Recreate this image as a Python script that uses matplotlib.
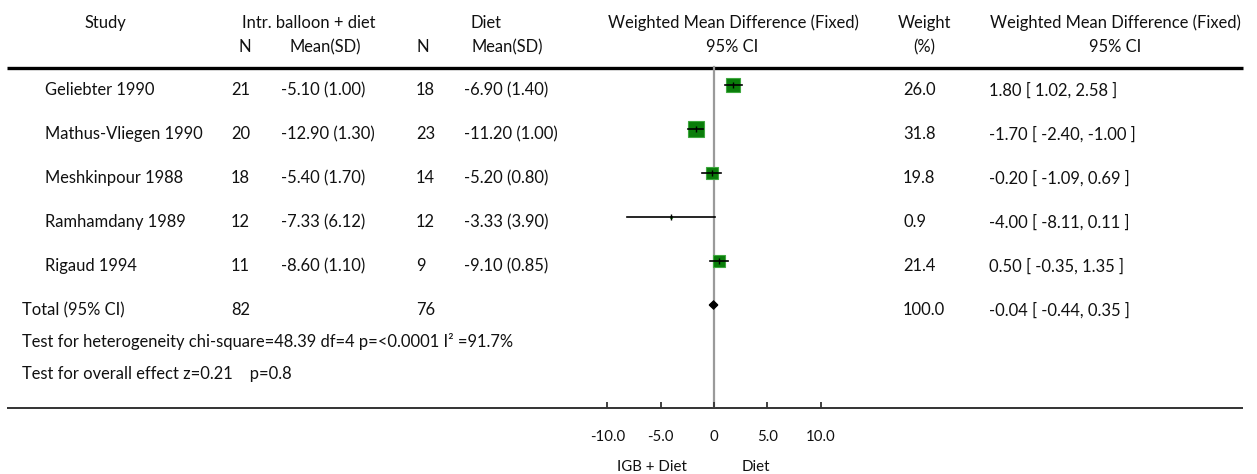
import matplotlib
matplotlib.use("Agg")
import matplotlib.pyplot as plt
import numpy as np

plt.rcParams['font.family'] = ['Lato', 'DejaVu Sans']

# ---------------- data ----------------
studies = ["Geliebter 1990", "Mathus-Vliegen 1990", "Meshkinpour 1988",
           "Ramhamdany 1989", "Rigaud 1994"]
n_igb = [21, 20, 18, 12, 11]
mean_igb = ["-5.10 (1.00)", "-12.90 (1.30)", "-5.40 (1.70)", "-7.33 (6.12)", "-8.60 (1.10)"]
n_diet = [18, 23, 14, 12, 9]
mean_diet = ["-6.90 (1.40)", "-11.20 (1.00)", "-5.20 (0.80)", "-3.33 (3.90)", "-9.10 (0.85)"]
wmd = [1.80, -1.70, -0.20, -4.00, 0.50]
ci_low = [1.02, -2.40, -1.09, -8.11, -0.35]
ci_high = [2.58, -1.00, 0.69, 0.11, 1.35]
weights = [26.0, 31.8, 19.8, 0.9, 21.4]
total_n_igb = 82
total_n_diet = 76
total_wmd = -0.04
total_low = -0.44
total_high = 0.35
total_weight = 100.0
heterogeneity = "Test for heterogeneity chi-square=48.39 df=4 p=<0.0001 I\u00b2 =91.7%"
overall = "Test for overall effect z=0.21    p=0.8"
tick_values = [-10, -5, 0, 5, 10]
tick_labels = ["-10.0", "-5.0", "0", "5.0", "10.0"]
favours_left = "IGB + Diet"
favours_right = "Diet"

# ---------------- layout ----------------
W, H = 1257, 474
fig = plt.figure(figsize=(W / 100, H / 100), dpi=100)
TXT = "#111111"
FS = 11.9
FS_AX = 10.8

# table axes in pixel coordinates
tab = fig.add_axes([0, 0, 1, 1])
tab.set_xlim(0, W)
tab.set_ylim(H, 0)
tab.axis("off")

row_y0, row_dy = 85.0, 44.0
text_off = 5.0
def ry(i):
    return row_y0 + row_dy * i + text_off

def T(x, y, s, ha="left"):
    tab.text(x, y, s, ha=ha, va="center", fontsize=FS, color=TXT)

# column anchors (pixels)
c_study, c_total = 45, 22
c_n1, c_m1, c_n2, c_m2 = 231, 281, 416, 464
c_w, c_ci = 903, 989

# headers
hy1, hy2 = 23, 47
T(105, hy1, "Study", "center")
T(309, hy1, "Intr. balloon + diet", "center")
T(486, hy1, "Diet", "center")
T(733, hy1, "Weighted Mean Difference (Fixed)", "center")
T(924, hy1, "Weight", "center")
T(1115, hy1, "Weighted Mean Difference (Fixed)", "center")
T(245, hy2, "N", "center")
T(325, hy2, "Mean(SD)", "center")
T(423, hy2, "N", "center")
T(507, hy2, "Mean(SD)", "center")
T(732, hy2, "95% CI", "center")
T(924, hy2, "(%)", "center")
T(1115, hy2, "95% CI", "center")

tab.plot([7, 1243], [67.5, 67.5], color="black", lw=2.4, solid_capstyle="butt")
tab.plot([7, 1243], [408, 408], color="#333333", lw=1.4, solid_capstyle="butt")

for i, s in enumerate(studies):
    y = ry(i)
    T(c_study, y, s)
    T(c_n1, y, str(n_igb[i]))
    T(c_m1, y, mean_igb[i])
    T(c_n2, y, str(n_diet[i]))
    T(c_m2, y, mean_diet[i])
    T(c_w, y, f"{weights[i]:.1f}")
    T(c_ci, y, f"{wmd[i]:.2f} [ {ci_low[i]:.2f}, {ci_high[i]:.2f} ]")

yt = ry(5)
T(c_total, yt, "Total (95% CI)")
T(c_n1, yt, str(total_n_igb))
T(c_n2, yt, str(total_n_diet))
T(c_w, yt, f"{total_weight:.1f}")
T(c_ci, yt, f"{total_wmd:.2f} [ {total_low:.2f}, {total_high:.2f} ]")
T(c_total, 342, heterogeneity)
T(c_total, 374, overall)

# ---------------- forest axes ----------------
x0_px, scale = 714.0, 10.67          # pixel of zero, pixels per unit
axis_px = 408.0
ax = fig.add_axes([0, (H - axis_px) / H, 1, axis_px / H])
ax.patch.set_alpha(0)
ax.set_xlim(-x0_px / scale, (W - x0_px) / scale)
ax.set_ylim((axis_px - row_y0) / row_dy, (0 - row_y0) / row_dy)
for sp in ["top", "right", "left", "bottom"]:
    ax.spines[sp].set_visible(False)
ax.set_yticks([])
ax.set_xticks(tick_values)
ax.set_xticklabels(tick_labels)
ax.tick_params(axis="x", direction="in", length=4.5, width=1.3, color="#333333",
               pad=16, labelsize=FS_AX, labelcolor=TXT)

# vertical null line
ax.plot([0, 0], [(67 - row_y0) / row_dy, (axis_px - row_y0) / row_dy],
        color="#9a9a9a", lw=1.6, zorder=1)

for i in range(len(studies)):
    ax.plot([ci_low[i], ci_high[i]], [i, i], color="black", lw=1.2, zorder=3)
    side_px = 2.7 * np.sqrt(weights[i])
    ax.plot(wmd[i], i, marker="s", markersize=side_px * 0.72,
            markerfacecolor="#0a7d0a", markeredgecolor="#3fa83f",
            markeredgewidth=0.8, linestyle="none", zorder=2)
    ax.plot(wmd[i], i, marker="|", markersize=4.5, color="black",
            markeredgewidth=1.0, linestyle="none", zorder=4)

# diamond for the pooled estimate
dh = 4.0 / row_dy
ax.fill([total_low, total_wmd, total_high, total_wmd],
        [5, 5 - dh, 5, 5 + dh], color="black", zorder=3)

# favours labels
tab.text(652, 467, favours_left, ha="center", va="center", fontsize=FS_AX, color=TXT)
tab.text(756, 467, favours_right, ha="center", va="center", fontsize=FS_AX, color=TXT)

fig.savefig("out.png", dpi=100)
